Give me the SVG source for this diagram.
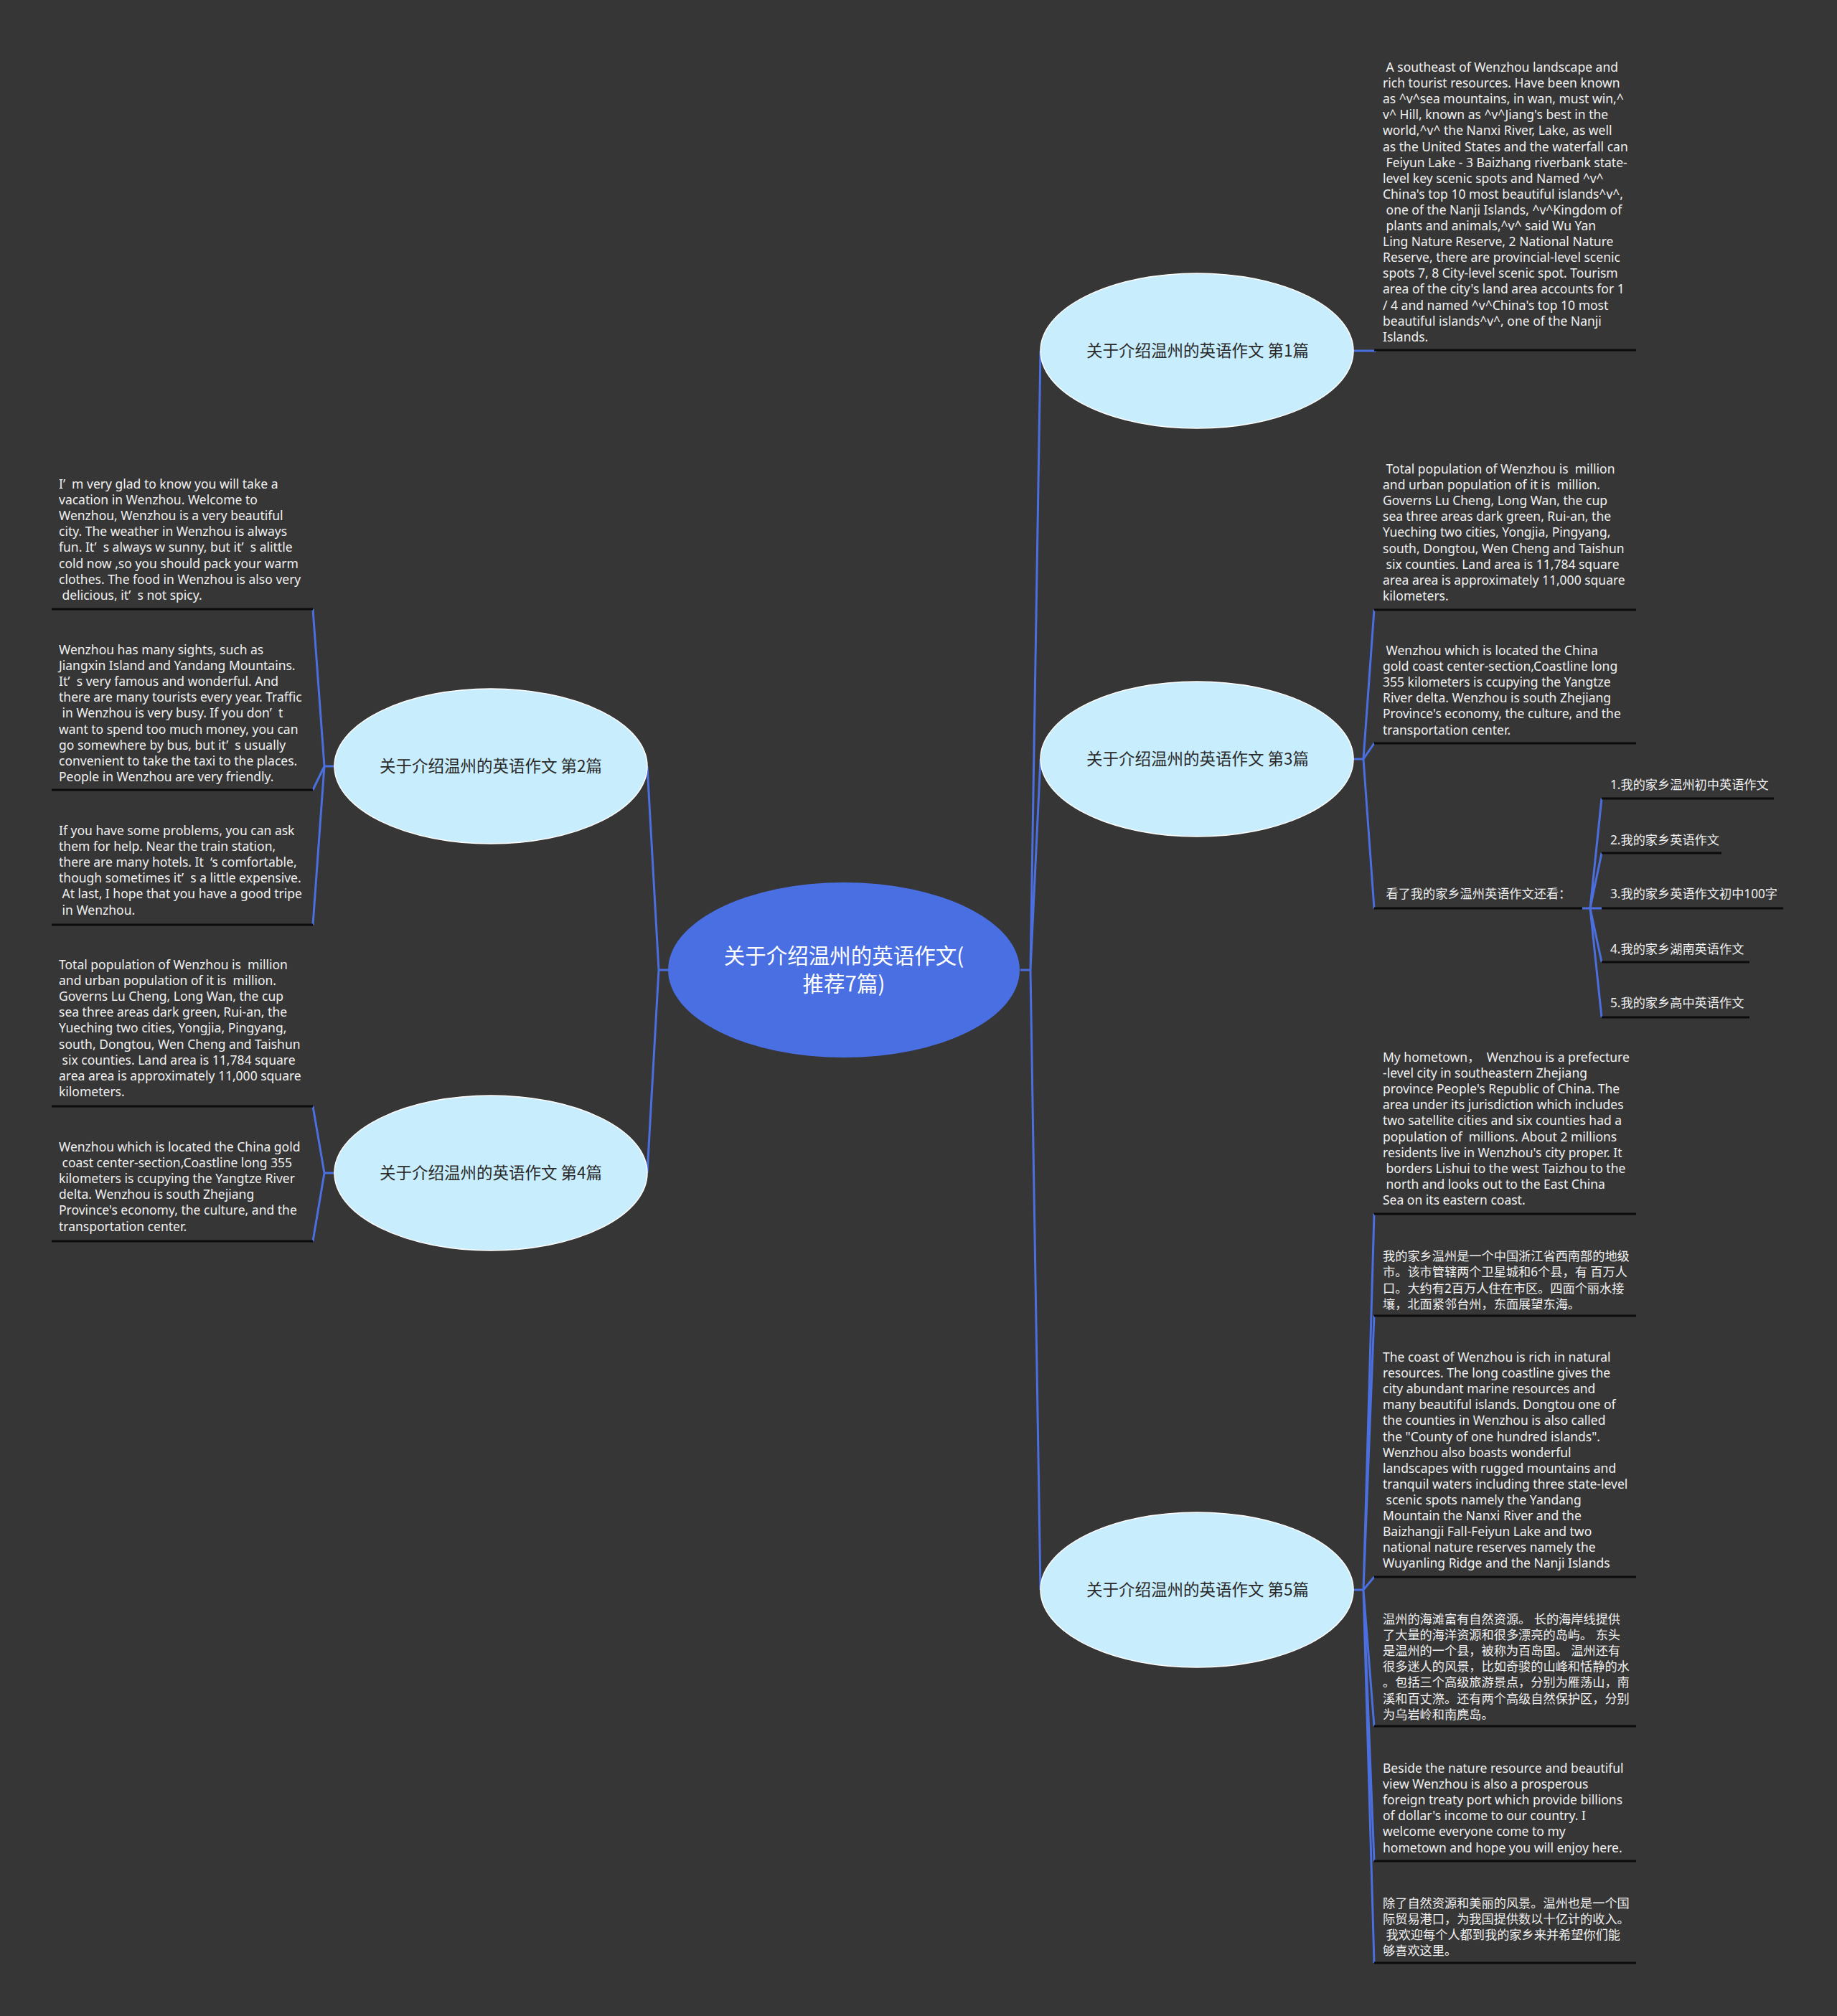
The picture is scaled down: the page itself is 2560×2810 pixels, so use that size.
<svg xmlns="http://www.w3.org/2000/svg" width="2560" height="2810" viewBox="0 0 2560 2810">
<style>
.conn{fill:none;stroke:#4b6fde;stroke-width:3;stroke-linejoin:round}
.ul{stroke:#0b0b0b;stroke-width:3}
.leaf{font-family:"Noto Sans","Noto Sans CJK SC",sans-serif;font-size:17.5px;fill:#f0f0f0}
.cjk{font-size:17.2px}
.l1 ellipse{fill:#c8edfc;stroke:#ffffff;stroke-width:1.5}
.l1 text{font-family:"Noto Sans CJK SC","Noto Sans",sans-serif;font-size:22.5px;fill:#2a2a2a;text-anchor:middle}
.root ellipse{fill:#4a6fe2}
.root text{font-family:"Noto Sans CJK SC","Noto Sans",sans-serif;font-size:29.5px;fill:#ffffff;text-anchor:middle}
</style>
<rect width="2560" height="2810" fill="#363636"/>
<g id="connectors">
<path class="conn" d="M1422,1352 H1436 L1450,489 M1436,1352 L1450,1058 M1436,1352 L1450,2216"/>
<path class="conn" d="M932,1352 H918 L902,1068 M918,1352 L902,1635"/>
<path class="conn" d="M1886,489 H1918"/>
<path class="conn" d="M1886,1058 H1900 L1915,850 M1900,1058 L1915,1036 M1900,1058 L1915,1266"/>
<path class="conn" d="M2205,1266 H2232 M2216,1266 L2232,1113 M2216,1266 L2232,1189 M2216,1266 L2232,1341 M2216,1266 L2232,1418"/>
<path class="conn" d="M1886,2216 H1900 L1915,1692 M1900,2216 L1915,1834 M1900,2216 L1915,2198 M1900,2216 L1915,2406 M1900,2216 L1915,2594 M1900,2216 L1915,2736"/>
<path class="conn" d="M466,1068 H452 L436,849 M452,1068 L436,1101 M452,1068 L436,1289"/>
<path class="conn" d="M466,1635 H452 L436,1542 M452,1635 L436,1730"/>
</g>
<g id="root" class="root">
<ellipse cx="1176" cy="1352" rx="245" ry="122"/>
<text x="1176" y="1343">关于介绍温州的英语作文(</text>
<text x="1176" y="1382">推荐7篇)</text>
</g>
<g id="n1" class="l1"><ellipse cx="1668" cy="489" rx="218" ry="108"/><text x="1669" y="497">关于介绍温州的英语作文 第1篇</text></g>
<g id="n3" class="l1"><ellipse cx="1668" cy="1058" rx="218" ry="108"/><text x="1669" y="1066">关于介绍温州的英语作文 第3篇</text></g>
<g id="n5" class="l1"><ellipse cx="1668" cy="2216" rx="218" ry="108"/><text x="1669" y="2224">关于介绍温州的英语作文 第5篇</text></g>
<g id="n2" class="l1"><ellipse cx="684" cy="1068" rx="218" ry="108"/><text x="684" y="1076">关于介绍温州的英语作文 第2篇</text></g>
<g id="n4" class="l1"><ellipse cx="684" cy="1635" rx="218" ry="108"/><text x="684" y="1643">关于介绍温州的英语作文 第4篇</text></g>
<g id="leaf-r1"><text class="leaf" xml:space="preserve"><tspan x="1927" y="100"> A southeast of Wenzhou landscape and</tspan><tspan x="1927" y="122.1">rich tourist resources. Have been known</tspan><tspan x="1927" y="144.2">as ^v^sea mountains, in wan, must win,^</tspan><tspan x="1927" y="166.3">v^ Hill, known as ^v^Jiang's best in the</tspan><tspan x="1927" y="188.4">world,^v^ the Nanxi River, Lake, as well</tspan><tspan x="1927" y="210.5">as the United States and the waterfall can</tspan><tspan x="1927" y="232.6"> Feiyun Lake - 3 Baizhang riverbank state-</tspan><tspan x="1927" y="254.7">level key scenic spots and Named ^v^</tspan><tspan x="1927" y="276.8">China's top 10 most beautiful islands^v^,</tspan><tspan x="1927" y="298.9"> one of the Nanji Islands, ^v^Kingdom of</tspan><tspan x="1927" y="321"> plants and animals,^v^ said Wu Yan</tspan><tspan x="1927" y="343.1">Ling Nature Reserve, 2 National Nature</tspan><tspan x="1927" y="365.2">Reserve, there are provincial-level scenic</tspan><tspan x="1927" y="387.3">spots 7, 8 City-level scenic spot. Tourism</tspan><tspan x="1927" y="409.4">area of the city's land area accounts for 1</tspan><tspan x="1927" y="431.5">/ 4 and named ^v^China's top 10 most</tspan><tspan x="1927" y="453.6">beautiful islands^v^, one of the Nanji</tspan><tspan x="1927" y="475.7">Islands.</tspan></text><line class="ul" x1="1915" y1="488" x2="2280" y2="488"/></g>
<g id="leaf-r3a"><text class="leaf" xml:space="preserve"><tspan x="1927" y="660"> Total population of Wenzhou is  million</tspan><tspan x="1927" y="682.1">and urban population of it is  million.</tspan><tspan x="1927" y="704.2">Governs Lu Cheng, Long Wan, the cup</tspan><tspan x="1927" y="726.3">sea three areas dark green, Rui-an, the</tspan><tspan x="1927" y="748.4">Yueching two cities, Yongjia, Pingyang,</tspan><tspan x="1927" y="770.5">south, Dongtou, Wen Cheng and Taishun</tspan><tspan x="1927" y="792.6"> six counties. Land area is 11,784 square</tspan><tspan x="1927" y="814.7">area area is approximately 11,000 square</tspan><tspan x="1927" y="836.8">kilometers.</tspan></text><line class="ul" x1="1915" y1="850" x2="2280" y2="850"/></g>
<g id="leaf-r3b"><text class="leaf" xml:space="preserve"><tspan x="1927" y="913"> Wenzhou which is located the China</tspan><tspan x="1927" y="935.1">gold coast center-section,Coastline long</tspan><tspan x="1927" y="957.2">355 kilometers is ccupying the Yangtze</tspan><tspan x="1927" y="979.3">River delta. Wenzhou is south Zhejiang</tspan><tspan x="1927" y="1001.4">Province's economy, the culture, and the</tspan><tspan x="1927" y="1023.5">transportation center.</tspan></text><line class="ul" x1="1915" y1="1036" x2="2280" y2="1036"/></g>
<g id="leaf-r3c"><text class="leaf cjk" xml:space="preserve" x="1927" y="1252"> 看了我的家乡温州英语作文还看：</text><line class="ul" x1="1915" y1="1266" x2="2205" y2="1266"/></g>
<g id="leaf-s1"><text class="leaf cjk" x="2244" y="1100">1.我的家乡温州初中英语作文</text><line class="ul" x1="2232" y1="1113" x2="2472" y2="1113"/></g>
<g id="leaf-s2"><text class="leaf cjk" x="2244" y="1177">2.我的家乡英语作文</text><line class="ul" x1="2232" y1="1189" x2="2399" y2="1189"/></g>
<g id="leaf-s3"><text class="leaf cjk" x="2244" y="1252">3.我的家乡英语作文初中100字</text><line class="ul" x1="2232" y1="1266" x2="2485" y2="1266"/></g>
<g id="leaf-s4"><text class="leaf cjk" x="2244" y="1329">4.我的家乡湖南英语作文</text><line class="ul" x1="2232" y1="1341" x2="2438" y2="1341"/></g>
<g id="leaf-s5"><text class="leaf cjk" x="2244" y="1404">5.我的家乡高中英语作文</text><line class="ul" x1="2232" y1="1418" x2="2438" y2="1418"/></g>
<g id="leaf-r5a"><text class="leaf" xml:space="preserve"><tspan x="1927" y="1480">My hometown，  Wenzhou is a prefecture</tspan><tspan x="1927" y="1502.1">-level city in southeastern Zhejiang</tspan><tspan x="1927" y="1524.2">province People's Republic of China. The</tspan><tspan x="1927" y="1546.3">area under its jurisdiction which includes</tspan><tspan x="1927" y="1568.4">two satellite cities and six counties had a</tspan><tspan x="1927" y="1590.5">population of  millions. About 2 millions</tspan><tspan x="1927" y="1612.6">residents live in Wenzhou's city proper. It</tspan><tspan x="1927" y="1634.7"> borders Lishui to the west Taizhou to the</tspan><tspan x="1927" y="1656.8"> north and looks out to the East China</tspan><tspan x="1927" y="1678.9">Sea on its eastern coast.</tspan></text><line class="ul" x1="1915" y1="1692" x2="2280" y2="1692"/></g>
<g id="leaf-r5b"><text class="leaf cjk" xml:space="preserve"><tspan x="1927" y="1757">我的家乡温州是一个中国浙江省西南部的地级</tspan><tspan x="1927" y="1779.3">市。该市管辖两个卫星城和6个县，有 百万人</tspan><tspan x="1927" y="1801.6">口。大约有2百万人住在市区。四面个丽水接</tspan><tspan x="1927" y="1823.9">壤，北面紧邻台州，东面展望东海。</tspan></text><line class="ul" x1="1915" y1="1834" x2="2280" y2="1834"/></g>
<g id="leaf-r5c"><text class="leaf" xml:space="preserve"><tspan x="1927" y="1898">The coast of Wenzhou is rich in natural</tspan><tspan x="1927" y="1920.1">resources. The long coastline gives the</tspan><tspan x="1927" y="1942.2">city abundant marine resources and</tspan><tspan x="1927" y="1964.3">many beautiful islands. Dongtou one of</tspan><tspan x="1927" y="1986.4">the counties in Wenzhou is also called</tspan><tspan x="1927" y="2008.5">the "County of one hundred islands".</tspan><tspan x="1927" y="2030.6">Wenzhou also boasts wonderful</tspan><tspan x="1927" y="2052.7">landscapes with rugged mountains and</tspan><tspan x="1927" y="2074.8">tranquil waters including three state-level</tspan><tspan x="1927" y="2096.9"> scenic spots namely the Yandang</tspan><tspan x="1927" y="2119">Mountain the Nanxi River and the</tspan><tspan x="1927" y="2141.1">Baizhangji Fall-Feiyun Lake and two</tspan><tspan x="1927" y="2163.2">national nature reserves namely the</tspan><tspan x="1927" y="2185.3">Wuyanling Ridge and the Nanji Islands</tspan></text><line class="ul" x1="1915" y1="2198" x2="2280" y2="2198"/></g>
<g id="leaf-r5d"><text class="leaf cjk" xml:space="preserve"><tspan x="1927" y="2263">温州的海滩富有自然资源。 长的海岸线提供</tspan><tspan x="1927" y="2285.1">了大量的海洋资源和很多漂亮的岛屿。 东头</tspan><tspan x="1927" y="2307.2">是温州的一个县，被称为百岛国。 温州还有</tspan><tspan x="1927" y="2329.3">很多迷人的风景，比如奇骏的山峰和恬静的水</tspan><tspan x="1927" y="2351.4">。包括三个高级旅游景点，分别为雁荡山，南</tspan><tspan x="1927" y="2373.5">溪和百丈漈。还有两个高级自然保护区，分别</tspan><tspan x="1927" y="2395.6">为乌岩岭和南麂岛。</tspan></text><line class="ul" x1="1915" y1="2406" x2="2280" y2="2406"/></g>
<g id="leaf-r5e"><text class="leaf" xml:space="preserve"><tspan x="1927" y="2471">Beside the nature resource and beautiful</tspan><tspan x="1927" y="2493.1">view Wenzhou is also a prosperous</tspan><tspan x="1927" y="2515.2">foreign treaty port which provide billions</tspan><tspan x="1927" y="2537.3">of dollar's income to our country. I</tspan><tspan x="1927" y="2559.4">welcome everyone come to my</tspan><tspan x="1927" y="2581.5">hometown and hope you will enjoy here.</tspan></text><line class="ul" x1="1915" y1="2594" x2="2280" y2="2594"/></g>
<g id="leaf-r5f"><text class="leaf cjk" xml:space="preserve"><tspan x="1927" y="2659">除了自然资源和美丽的风景。温州也是一个国</tspan><tspan x="1927" y="2681.1">际贸易港口，为我国提供数以十亿计的收入。</tspan><tspan x="1927" y="2703.2"> 我欢迎每个人都到我的家乡来并希望你们能</tspan><tspan x="1927" y="2725.3">够喜欢这里。</tspan></text><line class="ul" x1="1915" y1="2736" x2="2280" y2="2736"/></g>
<g id="leaf-l2a"><text class="leaf" xml:space="preserve"><tspan x="82" y="681">I’  m very glad to know you will take a</tspan><tspan x="82" y="703.1">vacation in Wenzhou. Welcome to</tspan><tspan x="82" y="725.2">Wenzhou, Wenzhou is a very beautiful</tspan><tspan x="82" y="747.3">city. The weather in Wenzhou is always</tspan><tspan x="82" y="769.4">fun. It’  s always w sunny, but it’  s alittle</tspan><tspan x="82" y="791.5">cold now ,so you should pack your warm</tspan><tspan x="82" y="813.6">clothes. The food in Wenzhou is also very</tspan><tspan x="82" y="835.7"> delicious, it’  s not spicy.</tspan></text><line class="ul" x1="72" y1="849" x2="436" y2="849"/></g>
<g id="leaf-l2b"><text class="leaf" xml:space="preserve"><tspan x="82" y="912">Wenzhou has many sights, such as</tspan><tspan x="82" y="934.1">Jiangxin Island and Yandang Mountains.</tspan><tspan x="82" y="956.2">It’  s very famous and wonderful. And</tspan><tspan x="82" y="978.3">there are many tourists every year. Traffic</tspan><tspan x="82" y="1000.4"> in Wenzhou is very busy. If you don’  t</tspan><tspan x="82" y="1022.5">want to spend too much money, you can</tspan><tspan x="82" y="1044.6">go somewhere by bus, but it’  s usually</tspan><tspan x="82" y="1066.7">convenient to take the taxi to the places.</tspan><tspan x="82" y="1088.8">People in Wenzhou are very friendly.</tspan></text><line class="ul" x1="72" y1="1101" x2="436" y2="1101"/></g>
<g id="leaf-l2c"><text class="leaf" xml:space="preserve"><tspan x="82" y="1164">If you have some problems, you can ask</tspan><tspan x="82" y="1186.1">them for help. Near the train station,</tspan><tspan x="82" y="1208.2">there are many hotels. It  ‘s comfortable,</tspan><tspan x="82" y="1230.3">though sometimes it’  s a little expensive.</tspan><tspan x="82" y="1252.4"> At last, I hope that you have a good tripe</tspan><tspan x="82" y="1274.5"> in Wenzhou.</tspan></text><line class="ul" x1="72" y1="1289" x2="436" y2="1289"/></g>
<g id="leaf-l4a"><text class="leaf" xml:space="preserve"><tspan x="82" y="1351">Total population of Wenzhou is  million</tspan><tspan x="82" y="1373.1">and urban population of it is  million.</tspan><tspan x="82" y="1395.2">Governs Lu Cheng, Long Wan, the cup</tspan><tspan x="82" y="1417.3">sea three areas dark green, Rui-an, the</tspan><tspan x="82" y="1439.4">Yueching two cities, Yongjia, Pingyang,</tspan><tspan x="82" y="1461.5">south, Dongtou, Wen Cheng and Taishun</tspan><tspan x="82" y="1483.6"> six counties. Land area is 11,784 square</tspan><tspan x="82" y="1505.7">area area is approximately 11,000 square</tspan><tspan x="82" y="1527.8">kilometers.</tspan></text><line class="ul" x1="72" y1="1542" x2="436" y2="1542"/></g>
<g id="leaf-l4b"><text class="leaf" xml:space="preserve"><tspan x="82" y="1605">Wenzhou which is located the China gold</tspan><tspan x="82" y="1627.1"> coast center-section,Coastline long 355</tspan><tspan x="82" y="1649.2">kilometers is ccupying the Yangtze River</tspan><tspan x="82" y="1671.3">delta. Wenzhou is south Zhejiang</tspan><tspan x="82" y="1693.4">Province's economy, the culture, and the</tspan><tspan x="82" y="1715.5">transportation center.</tspan></text><line class="ul" x1="72" y1="1730" x2="436" y2="1730"/></g>
</svg>
